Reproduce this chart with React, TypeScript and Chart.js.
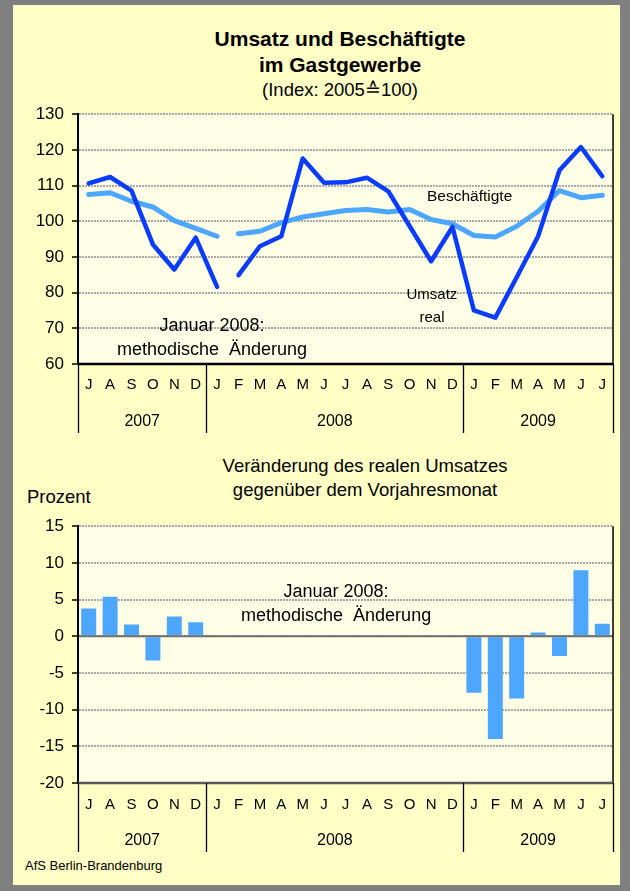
import React, { useEffect, useRef } from 'react';
import { Chart, registerables } from 'chart.js';

Chart.register(...registerables);

// ---------- data ----------
const MONTHS = ['J', 'A', 'S', 'O', 'N', 'D', 'J', 'F', 'M', 'A', 'M', 'J', 'J', 'A', 'S', 'O', 'N', 'D', 'J', 'F', 'M', 'A', 'M', 'J', 'J'];
const YEARS = ['2007', '2008', '2009'];
const YEAR_SPANS = [6, 12, 7];

const UMSATZ_REAL = [110.6, 112.4, 108.6, 93.5, 86.5, 95.4, 81.6, 84.9, 93.0, 95.8, 117.6, 110.8, 110.9, 112.2, 108.4, 98.6, 88.8, 98.4, 75.0, 73.0, 84.3, 95.8, 114.3, 120.8, 112.6];
const BESCHAEFTIGTE = [107.5, 108.0, 105.6, 104.0, 100.2, 98.0, 95.8, 96.5, 97.2, 99.6, 101.2, 102.1, 103.0, 103.3, 102.6, 103.3, 100.5, 99.3, 96.0, 95.6, 98.6, 102.8, 108.6, 106.6, 107.3];
const VERAENDERUNG: (number | null)[] = [3.8, 5.4, 1.6, -3.3, 2.7, 1.9, null, null, null, null, null, null, null, null, null, null, null, null, -7.7, -14.0, -8.5, 0.5, -2.7, 9.0, 1.7];

const BREAK_AFTER_INDEX = 6; // line break: methodische Änderung Januar 2008

const TOP_Y_MIN = 60;
const TOP_Y_MAX = 130;
const TOP_Y_STEP = 10;
const BOTTOM_Y_MIN = -20;
const BOTTOM_Y_MAX = 15;
const BOTTOM_Y_STEP = 5;

type Note = { text: string; x: number; y: number; size: number };
const TOP_NOTES: Note[] = [
  { text: 'Beschäftigte', x: 17.8, y: 107.0, size: 15.5 },
  { text: 'Umsatz', x: 16.04, y: 79.3, size: 15 },
  { text: 'real', x: 16.04, y: 73.0, size: 15 },
  { text: 'Januar 2008:', x: 5.76, y: 70.6, size: 18 },
  { text: 'methodische  Änderung', x: 5.76, y: 63.9, size: 18 },
];
const BOTTOM_NOTES: Note[] = [
  { text: 'Januar 2008:', x: 11.56, y: 6.0, size: 18 },
  { text: 'methodische  Änderung', x: 11.56, y: 2.8, size: 18 },
];

// ---------- style ----------
const FONT = "'Liberation Sans', Arial, Helvetica, sans-serif";
const FRAME_GRAY = '#808080';
const OUTER_BG = '#FFFFC6';
const PLOT_BG = '#FFFFE8';
const DARK_BLUE = '#0A3CFF';
const LIGHT_BLUE = '#4DA6FF';
const GRID = '#A8A8A8';

function makeFramePlugin(notes: Note[], withZero: boolean, bottomColor: string) {
  return {
    id: 'frameDeco',
    beforeDraw(chart: any) {
      const { ctx, chartArea: a } = chart;
      ctx.save();
      ctx.fillStyle = PLOT_BG;
      ctx.fillRect(a.left, a.top, a.right - a.left, a.bottom - a.top);
      ctx.restore();
    },
    afterDatasetsDraw(chart: any) {
      const { ctx, chartArea: a, scales } = chart;
      const xs = scales.x;
      const ys = scales.y;
      ctx.save();
      if (withZero) {
        const y0 = ys.getPixelForValue(0);
        ctx.strokeStyle = '#6E6E6E';
        ctx.lineWidth = 2;
        ctx.beginPath();
        ctx.moveTo(a.left, y0);
        ctx.lineTo(a.right, y0);
        ctx.stroke();
      }
      ctx.fillStyle = '#000';
      ctx.textAlign = 'center';
      ctx.textBaseline = 'middle';
      for (const n of notes) {
        ctx.font = `${n.size}px ${FONT}`;
        ctx.fillText(n.text, xs.getPixelForValue(n.x), ys.getPixelForValue(n.y));
      }
      ctx.restore();
    },
    afterDraw(chart: any) {
      const { ctx, chartArea: a } = chart;
      const n = MONTHS.length;
      const w = (a.right - a.left) / n;
      ctx.save();
      // right border
      ctx.strokeStyle = '#000';
      ctx.lineWidth = 1.5;
      ctx.beginPath();
      ctx.moveTo(a.right, a.top);
      ctx.lineTo(a.right, a.bottom);
      ctx.stroke();
      // left axis
      ctx.lineWidth = 2;
      ctx.beginPath();
      ctx.moveTo(a.left, a.top);
      ctx.lineTo(a.left, a.bottom);
      ctx.stroke();
      // bottom
      ctx.strokeStyle = bottomColor;
      ctx.lineWidth = 2.5;
      ctx.beginPath();
      ctx.moveTo(a.left, a.bottom);
      ctx.lineTo(a.right, a.bottom);
      ctx.stroke();
      // year separators + labels
      ctx.strokeStyle = '#000';
      ctx.lineWidth = 1.3;
      let idx = 0;
      const bounds = [0];
      YEAR_SPANS.forEach((s) => { idx += s; bounds.push(idx); });
      for (const b of bounds) {
        const x = Math.round(a.left + b * w) + 0.5;
        ctx.beginPath();
        ctx.moveTo(x, a.bottom);
        ctx.lineTo(x, a.bottom + 69);
        ctx.stroke();
      }
      ctx.fillStyle = '#000';
      ctx.font = `16px ${FONT}`;
      ctx.textAlign = 'center';
      ctx.textBaseline = 'middle';
      YEARS.forEach((yr, i) => {
        const cx = a.left + ((bounds[i] + bounds[i + 1]) / 2) * w;
        ctx.fillText(yr, cx, a.bottom + 58);
      });
      ctx.restore();
    },
  };
}

function yAxis(min: number, max: number, step: number) {
  return {
    min,
    max,
    ticks: {
      stepSize: step,
      color: '#000',
      font: { family: FONT, size: 17 },
      padding: 8,
    },
    grid: {
      color: GRID,
      lineWidth: 2,
      drawTicks: true,
      tickLength: 6,
      tickColor: '#000',
      tickWidth: 1.5,
    },
    border: { display: true, color: '#000', width: 2, dash: [2, 1] },
    afterFit(scale: any) {
      scale.width = 78;
    },
  };
}

function xAxis(height: number, pad: number) {
  return {
    offset: true,
    ticks: {
      color: '#000',
      font: { family: FONT, size: 15 },
      padding: pad,
      autoSkip: false,
      maxRotation: 0,
    },
    grid: { display: false, drawTicks: false },
    border: { display: false },
    afterFit(scale: any) {
      scale.height = height;
    },
  };
}

function Txt(props: { x: number; y: number; size: number; bold?: boolean; align?: 'left' | 'center'; children: React.ReactNode }) {
  const { x, y, size, bold, align = 'center', children } = props;
  const lh = size * 1.2;
  const top = y - 0.589 * size;
  const style: React.CSSProperties = {
    position: 'absolute',
    top,
    fontFamily: FONT,
    fontSize: size,
    lineHeight: `${lh}px`,
    fontWeight: bold ? 'bold' : 'normal',
    color: '#000',
    whiteSpace: 'pre',
  };
  if (align === 'center') {
    style.left = x - 250;
    style.width = 500;
    style.textAlign = 'center';
  } else {
    style.left = x;
  }
  return <div style={style}>{children}</div>;
}

export default function App() {
  const topRef = useRef<HTMLCanvasElement>(null);
  const botRef = useRef<HTMLCanvasElement>(null);

  useEffect(() => {
    const top = new Chart(topRef.current as HTMLCanvasElement, {
      type: 'line',
      data: {
        labels: MONTHS,
        datasets: [
          {
            label: 'Umsatz real',
            data: UMSATZ_REAL,
            borderColor: DARK_BLUE,
            borderWidth: 4.5,
            pointRadius: 0,
            tension: 0,
            borderJoinStyle: 'round',
            borderCapStyle: 'round',
            order: 1,
            segment: {
              borderColor: (c: any) => (c.p0DataIndex === BREAK_AFTER_INDEX ? 'transparent' : undefined),
            },
          },
          {
            label: 'Beschäftigte',
            data: BESCHAEFTIGTE,
            borderColor: LIGHT_BLUE,
            borderWidth: 5,
            pointRadius: 0,
            tension: 0,
            borderJoinStyle: 'round',
            borderCapStyle: 'round',
            order: 2,
            segment: {
              borderColor: (c: any) => (c.p0DataIndex === BREAK_AFTER_INDEX ? 'transparent' : undefined),
            },
          },
        ],
      },
      options: {
        responsive: false,
        animation: false,
        devicePixelRatio: 1,
        layout: { padding: { top: 0, right: 17, left: 0, bottom: 0 } },
        plugins: { legend: { display: false }, tooltip: { enabled: false }, title: { display: false } },
        scales: {
          x: xAxis(81, 12),
          y: yAxis(TOP_Y_MIN, TOP_Y_MAX, TOP_Y_STEP),
        },
      } as any,
      plugins: [makeFramePlugin(TOP_NOTES, false, '#000')],
    });

    const bottom = new Chart(botRef.current as HTMLCanvasElement, {
      type: 'bar',
      data: {
        labels: MONTHS,
        datasets: [
          {
            label: 'Veränderung',
            data: VERAENDERUNG,
            backgroundColor: LIGHT_BLUE,
            borderWidth: 0,
            barPercentage: 0.7,
            categoryPercentage: 1,
          },
        ],
      },
      options: {
        responsive: false,
        animation: false,
        devicePixelRatio: 1,
        layout: { padding: { top: 0, right: 17, left: 0, bottom: 0 } },
        plugins: { legend: { display: false }, tooltip: { enabled: false }, title: { display: false } },
        scales: {
          x: xAxis(82, 13),
          y: yAxis(BOTTOM_Y_MIN, BOTTOM_Y_MAX, BOTTOM_Y_STEP),
        },
      } as any,
      plugins: [makeFramePlugin(BOTTOM_NOTES, true, '#5A5A5A')],
    });

    return () => {
      top.destroy();
      bottom.destroy();
    };
  }, []);

  return (
    <div style={{ position: 'absolute', left: 0, top: 0, width: 630, height: 891, background: FRAME_GRAY, overflow: 'hidden' }}>
      <div style={{ position: 'absolute', left: 13, top: 5, width: 607, height: 880, background: OUTER_BG }} />
      <Txt x={340} y={38.5} size={21} bold>Umsatz und Beschäftigte</Txt>
      <Txt x={340} y={64.5} size={21} bold>im Gastgewerbe</Txt>
      <Txt x={340} y={90} size={18.5}>(Index: 2005≙100)</Txt>
      <Txt x={365} y={466} size={18.5}>Veränderung des realen Umsatzes</Txt>
      <Txt x={365} y={490} size={18.5}>gegenüber dem Vorjahresmonat</Txt>
      <Txt x={27} y={497} size={18.5} align="left">Prozent</Txt>
      <Txt x={25} y={866} size={13} align="left">AfS Berlin-Brandenburg</Txt>
      <canvas ref={topRef} width={630} height={349} style={{ position: 'absolute', left: 0, top: 96, width: 630, height: 349 }} />
      <canvas ref={botRef} width={630} height={357} style={{ position: 'absolute', left: 0, top: 508, width: 630, height: 357 }} />
    </div>
  );
}
